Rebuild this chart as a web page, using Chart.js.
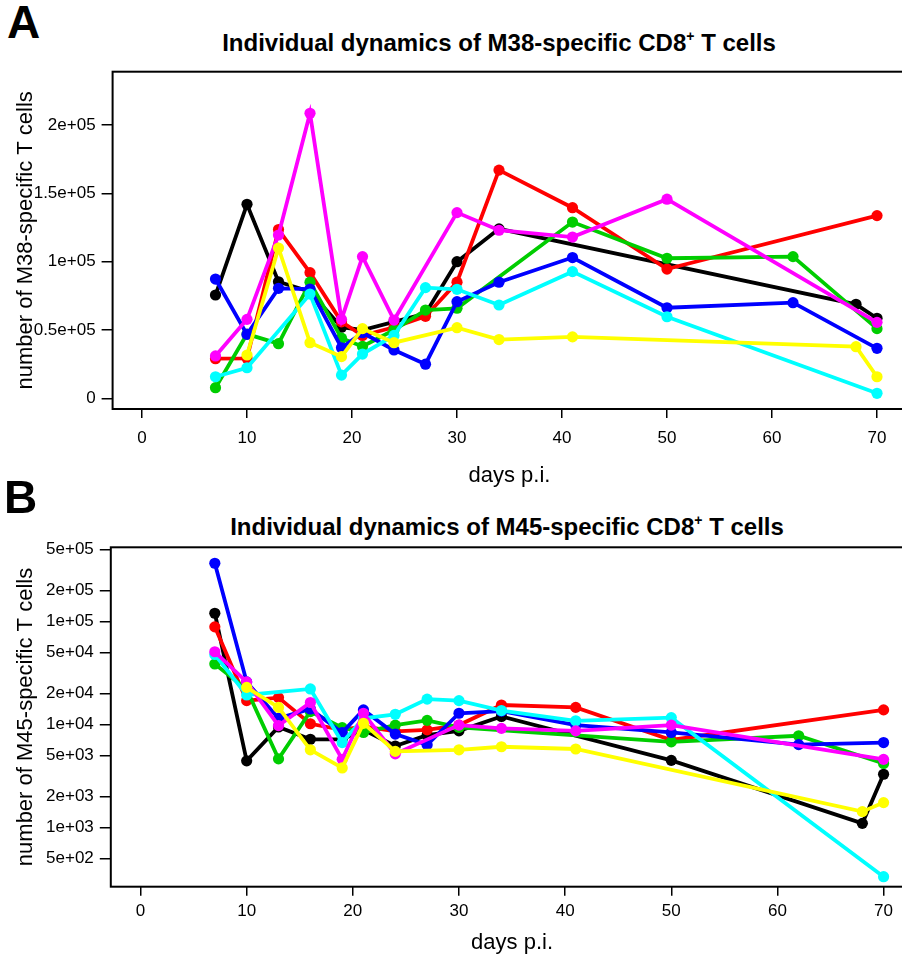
<!DOCTYPE html>
<html lang="en">
<head>
<meta charset="UTF-8">
<title>Individual dynamics of M38- and M45-specific CD8+ T cells</title>
<script src="https://cdn.jsdelivr.net/npm/chart.js"></script>
<style>
  html, body { margin: 0; padding: 0; background: #fff; overflow: hidden; }
  body { width: 902px; height: 963px; position: relative; font-family: "Liberation Sans", Arial, sans-serif; color: #000; }
  canvas { position: absolute; left: 0; }
  #chartA { top: 0; }
  #chartB { top: 490px; }
  .panel { position: absolute; font-weight: 700; font-size: 46px; line-height: 46px; }
  .title { position: absolute; font-weight: 700; font-size: 24px; line-height: 24px; white-space: nowrap; transform: translateX(-50%); }
  .title sup { font-size: 14px; vertical-align: 10px; line-height: 0; }
</style>
</head>
<body>
<div class="panel" style="left:7px; top:-1px">A</div>
<div class="title" style="left:499px; top:31px">Individual dynamics of M38-specific CD8<sup>+</sup> T cells</div>
<canvas id="chartA" width="930" height="490"></canvas>
<div class="panel" style="left:4px; top:474px">B</div>
<div class="title" style="left:507px; top:515px">Individual dynamics of M45-specific CD8<sup>+</sup> T cells</div>
<canvas id="chartB" width="930" height="473"></canvas>

<script>
// days post infection (null = not measured for that mouse)
const days = [7, 10, 13, 16, 19, 21, 24, 27, 30, 34, 41, 50, 62, 68, 70];
const xTicks = [0, 10, 20, 30, 40, 50, 60, 70];

// panel A: M38-specific CD8+ T cells
const m38Black   = [75600, 142000, 85300, 78000, 52000, 50000, 56000, 62000, 100000, 124000, null, null, null, 68800, 58600];
const m38Red     = [29000, 29300, 123500, 92000, 56000, 46000, 52000, 60000, 85000, 167000, 139500, 94600, null, null, 133700];
const m38Green   = [7800, 47000, 40000, 85000, 44000, 38000, 50000, 64600, 65900, null, 129000, 102500, 103700, null, 51000];
const m38Blue    = [87300, 46800, 80500, 80000, 37000, 48000, 35400, 25000, 70700, 85000, 103000, 66300, 70000, null, 36600];
const m38Cyan    = [15800, 22400, null, 76300, 17000, 32400, 46000, 81000, 79800, 68300, 92700, 59700, null, null, 3700];
const m38Magenta = [31000, 57800, 119500, 208600, 57800, 103700, 57300, null, 135900, 123000, 118000, 145700, null, null, 55600];
const m38Yellow  = [null, 31700, 110000, 40700, 30500, 51000, 40700, null, 51700, 43000, 45000, null, null, 37800, 15800];
const m38Ticks = [0, 50000, 100000, 150000, 200000];
const m38TickLabels = ['0', '0.5e+05', '1e+05', '1.5e+05', '2e+05'];

// panel B: M45-specific CD8+ T cells (log scale)
const m45Black   = [120700, 4450, 9500, 7200, 7200, 8900, 6200, 7900, 8700, 12000, null, 4500, null, 1100, 3300];
const m45Red     = [89000, 17100, 18300, 10200, 8900, 9600, 8600, 8900, 9900, 15500, 14700, 7100, null, null, 13900];
const m45Green   = [38800, 22000, 4650, 13400, 9350, 8400, 9900, 11000, 9400, null, null, 6800, 7800, null, 4200];
const m45Blue    = [369000, 26000, 11500, 14200, 8360, 13900, 8100, 6360, 12900, 13500, 9900, 8400, 6400, null, 6700];
const m45Cyan    = [48000, 19400, null, 22200, 6700, 11500, 12600, 17700, 17100, 13700, 10900, 11700, null, null, 334];
const m45Magenta = [51000, 26000, 9800, 16400, 4600, 12900, 5200, null, 9900, 9200, 8700, 9900, null, null, 4600];
const m45Yellow  = [null, 23000, 14700, 5700, 3800, 10300, 5500, null, 5700, 6100, 5800, null, null, 1430, 1750];
const m45Ticks = [500, 1000, 2000, 5000, 10000, 20000, 50000, 100000, 200000, 500000];
const m45TickLabels = ['5e+02', '1e+03', '2e+03', '5e+03', '1e+04', '2e+04', '5e+04', '1e+05', '2e+05', '5e+05'];

const colors = ['#000000', '#ff0000', '#00cd00', '#0000ff', '#00ffff', '#ff00ff', '#ffff00'];

Chart.defaults.font.family = '"Liberation Sans", Arial, sans-serif';
Chart.defaults.color = '#000';

// R style full box round the plot region
const boxPlugin = {
    id: 'box',
    beforeDatasetsDraw(chart) {
        const { ctx, chartArea: a } = chart;
        ctx.save();
        ctx.strokeStyle = '#000';
        ctx.lineWidth = 2;
        ctx.strokeRect(a.left, a.top, a.right - a.left, a.bottom - a.top);
        ctx.restore();
    }
};

function makeDatasets(series) {
    return series.map((vals, i) => ({
        data: vals,
        borderColor: colors[i],
        backgroundColor: colors[i],
        pointBackgroundColor: colors[i],
        pointBorderColor: colors[i],
        pointBorderWidth: 0,
        pointRadius: 5.6,
        borderWidth: 3.8,
        spanGaps: true,
        tension: 0,
        order: series.length - i
    }));
}

function makeChart(id, cfg) {
    return new Chart(document.getElementById(id), {
        type: 'line',
        data: { labels: days, datasets: makeDatasets(cfg.series) },
        plugins: [boxPlugin],
        options: {
            responsive: false,
            animation: false,
            events: [],
            layout: { padding: { left: 0, top: cfg.top, right: cfg.right, bottom: 0 } },
            plugins: { legend: { display: false }, tooltip: { enabled: false } },
            scales: {
                x: {
                    type: 'linear',
                    min: -2.8,
                    max: 72.8,
                    afterBuildTicks: s => { s.ticks = xTicks.map(v => ({ value: v })); },
                    afterFit: s => { s.height = cfg.xHeight; },
                    ticks: { font: { size: 17 }, padding: cfg.xPad, maxRotation: 0, callback: v => String(v) },
                    grid: { drawOnChartArea: false, drawTicks: true, tickLength: 9, color: '#000', lineWidth: 1.5 },
                    border: { display: false },
                    title: { display: true, text: 'days p.i.', font: { size: 22 }, padding: { top: 0, bottom: cfg.xTitlePad } }
                },
                y: {
                    type: cfg.yType,
                    min: cfg.yMin,
                    max: cfg.yMax,
                    afterBuildTicks: s => { s.ticks = cfg.yTicks.map(v => ({ value: v })); },
                    afterFit: s => { s.width = cfg.yWidth; },
                    ticks: { font: { size: 17 }, padding: 6, callback: (v, i) => cfg.yLabels[i] },
                    grid: { drawOnChartArea: false, drawTicks: true, tickLength: 11, color: '#000', lineWidth: 1.5 },
                    border: { display: false },
                    title: { display: true, text: cfg.yTitle, font: { size: 22 }, padding: { top: 13, bottom: 0 } }
                }
            }
        }
    });
}

makeChart('chartA', {
    series: [m38Black, m38Red, m38Green, m38Blue, m38Cyan, m38Magenta, m38Yellow],
    top: 71.7, right: 930 - 906.4, xHeight: 81, xPad: 10, xTitlePad: 1,
    yType: 'linear', yMin: -7800, yMax: 239000, yWidth: 112.6,
    yTicks: m38Ticks, yLabels: m38TickLabels,
    yTitle: 'number of M38-specific T cells'
});

makeChart('chartB', {
    series: [m45Black, m45Red, m45Green, m45Blue, m45Cyan, m45Magenta, m45Yellow],
    top: 57.3, right: 930 - 913.3, xHeight: 76.3, xPad: 5, xTitlePad: 7,
    yType: 'logarithmic', yMin: 267, yMax: 527000, yWidth: 110.8,
    yTicks: m45Ticks, yLabels: m45TickLabels,
    yTitle: 'number of M45-specific T cells'
});
</script>
</body>
</html>
